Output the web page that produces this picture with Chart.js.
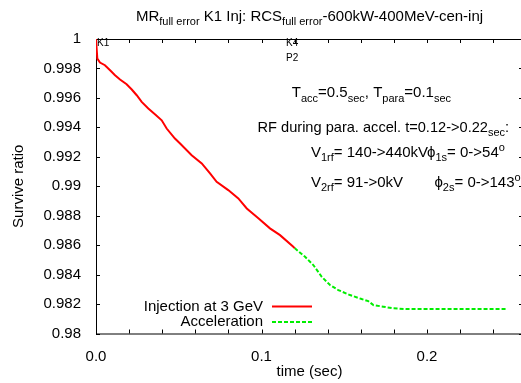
<!DOCTYPE html>
<html>
<head>
<meta charset="utf-8">
<script src="https://cdn.jsdelivr.net/npm/chart.js@4/dist/chart.umd.min.js"></script>
<style>
  html, body { margin: 0; padding: 0; background: #fff; overflow: hidden; }
  #wrap { width: 540px; height: 383px; }
</style>
</head>
<body>
<div id="wrap"><canvas id="surviveChart" width="540" height="383"></canvas></div>
<script>
// --- data ---
const seriesNames = ['Injection at 3 GeV', 'Acceleration'];

const injTime  = [0, 0.0008, 0.0024, 0.0054, 0.0085, 0.0115, 0.0145, 0.0185, 0.0216, 0.0246,
                  0.0276, 0.0316, 0.0356, 0.0397, 0.0427, 0.0477, 0.0508, 0.0578, 0.0639, 0.0689,
                  0.0729, 0.0799, 0.0860, 0.0911, 0.0981, 0.1051, 0.1112, 0.1192, 0.1200];
const injRatio = [1.0, 0.99867, 0.99840, 0.99822, 0.99788, 0.99754, 0.99725, 0.99693, 0.99657, 0.99618,
                  0.99573, 0.99528, 0.99489, 0.99448, 0.99392, 0.99324, 0.99290, 0.99211, 0.99155, 0.99087,
                  0.99030, 0.98974, 0.98917, 0.98849, 0.98782, 0.98714, 0.98668, 0.98589, 0.98580];

const accTime  = [0.1200, 0.1263, 0.1313, 0.1364, 0.1414, 0.1464, 0.1535, 0.1605, 0.1645, 0.1676,
                  0.1736, 0.1796, 0.1877, 0.2482];
const accRatio = [0.98580, 0.98521, 0.98465, 0.98385, 0.98329, 0.98295, 0.98261, 0.98234, 0.98220, 0.98193,
                  0.98182, 0.98171, 0.98166, 0.98166];

const xTickValues = [0, 0.02, 0.04, 0.06, 0.08, 0.1, 0.12, 0.14, 0.16, 0.18, 0.2, 0.22, 0.24];
const xTickLabels = ['0.0', '', '', '', '', '0.1', '', '', '', '', '0.2', '', ''];
const yTickValues = [0.98, 0.982, 0.984, 0.986, 0.988, 0.99, 0.992, 0.994, 0.996, 0.998, 1];
const yTickLabels = ['0.98', '0.982', '0.984', '0.986', '0.988', '0.99', '0.992', '0.994', '0.996', '0.998', '1'];

const xTitle = 'time (sec)';
const yTitle = 'Survive ratio';

// rich text pieces: '' normal, 'b' subscript, 'p' superscript
const titleParts = [['MR', ''], ['full error', 'b'], [' K1 Inj: RCS', ''], ['full error', 'b'], ['-600kW-400MeV-cen-inj', '']];
const notes = [
  { t: 0.0006, v: 0.99954, size: 10, parts: [['K1', '']] },
  { t: 0.1148, v: 0.99954, size: 10, parts: [['K4', '']] },
  { t: 0.1148, v: 0.99853, size: 10, parts: [['P2', '']] },
  { t: 0.1183, v: 0.99604, size: 15, parts: [['T', ''], ['acc', 'b'], ['=0.5', ''], ['sec', 'b'], [', T', ''], ['para', 'b'], ['=0.1', ''], ['sec', 'b']] },
  { t: 0.0976, v: 0.99367, size: 14.6, parts: [['RF during para. accel. t=0.12->0.22', ''], ['sec', 'b'], [':', '']] },
  { t: 0.1299, v: 0.99197, size: 15, parts: [['V', ''], ['1rf', 'b'], ['= 140->440kV', '']] },
  { t: 0.2000, v: 0.99197, size: 15, parts: [['ϕ', ''], ['1s', 'b'], ['= 0->54', ''], ['o', 'p']] },
  { t: 0.1299, v: 0.98994, size: 15, parts: [['V', ''], ['2rf', 'b'], ['= 91->0kV', '']] },
  { t: 0.2045, v: 0.98994, size: 15, parts: [['ϕ', ''], ['2s', 'b'], ['= 0->143', ''], ['o', 'p']] }
];

const FONT = '"Liberation Sans", Arial, Helvetica, sans-serif';

function fontFor(kind, size) {
  return (kind ? Math.round(size * 0.72) : size) + 'px ' + FONT;
}

// draws a run of text with sub/superscripts
function richText(ctx, parts, x, y, size, align) {
  const widths = parts.map(([s, k]) => { ctx.font = fontFor(k, size); return ctx.measureText(s).width; });
  const total = widths.reduce((a, b) => a + b, 0);
  let cx = align === 'center' ? x - total / 2 : x;
  parts.forEach(([s, k], i) => {
    ctx.font = fontFor(k, size);
    const dy = k === 'b' ? size * 0.28 : k === 'p' ? -size * 0.42 : 0;
    ctx.fillText(s, cx, y + dy);
    cx += widths[i];
  });
}

// gnuplot style frame with inward ticks on all four sides
const framePlugin = {
  id: 'frame',
  beforeDatasetsDraw(chart) {
    const { ctx, chartArea: a, scales: { x, y } } = chart;
    ctx.save();
    ctx.strokeStyle = '#000';
    ctx.lineWidth = 1;
    ctx.strokeRect(a.left + 0.5, a.top + 0.5, a.right - a.left, a.bottom - a.top);
    ctx.beginPath();
    xTickValues.forEach(v => {
      const px = Math.round(x.getPixelForValue(v)) + 0.5;
      ctx.moveTo(px, a.bottom); ctx.lineTo(px, a.bottom - 4);
      ctx.moveTo(px, a.top); ctx.lineTo(px, a.top + 4);
    });
    yTickValues.forEach(v => {
      const py = Math.round(y.getPixelForValue(v)) + 0.5;
      ctx.moveTo(a.left, py); ctx.lineTo(a.left + 4, py);
      ctx.moveTo(a.right, py); ctx.lineTo(a.right - 4, py);
    });
    ctx.stroke();
    ctx.restore();
  }
};

// title, labels and the key
const textPlugin = {
  id: 'texts',
  afterDraw(chart) {
    const { ctx, chartArea: a, scales: { x, y } } = chart;
    ctx.save();
    ctx.fillStyle = '#000';
    ctx.textBaseline = 'alphabetic';
    ctx.textAlign = 'left';
    richText(ctx, titleParts, (a.left + a.right) / 2, 21, 15, 'center');
    notes.forEach(n => richText(ctx, n.parts, x.getPixelForValue(n.t), y.getPixelForValue(n.v), n.size, 'left'));

    // key: label right-aligned, sample line after it
    ctx.font = '15px ' + FONT;
    ctx.textAlign = 'right';
    ctx.textBaseline = 'middle';
    chart.data.datasets.forEach((ds, i) => {
      const ky = a.bottom - 27 + i * 15.6;
      ctx.fillText(ds.label, a.left + 167, ky);
      ctx.beginPath();
      ctx.strokeStyle = ds.borderColor;
      ctx.lineWidth = 2;
      ctx.setLineDash(ds.borderDash || []);
      ctx.moveTo(a.left + 176, ky);
      ctx.lineTo(a.left + 216, ky);
      ctx.stroke();
    });
    ctx.restore();
  }
};

const toPoints = (xs, ys) => xs.map((t, i) => ({ x: t, y: ys[i] }));

new Chart(document.getElementById('surviveChart'), {
  type: 'line',
  data: {
    datasets: [
      {
        label: seriesNames[0],
        data: toPoints(injTime, injRatio),
        borderColor: '#ff0000',
        borderWidth: 2,
        pointRadius: 0,
        tension: 0
      },
      {
        label: seriesNames[1],
        data: toPoints(accTime, accRatio),
        borderColor: '#00ee00',
        borderWidth: 2,
        borderDash: [4, 2],
        pointRadius: 0,
        tension: 0
      }
    ]
  },
  options: {
    responsive: false,
    animation: false,
    layout: { padding: { left: 0, top: 39, right: 17, bottom: 0 } },
    plugins: { legend: { display: false }, tooltip: { enabled: false } },
    scales: {
      x: {
        type: 'linear',
        min: 0,
        max: 0.258,
        grid: { display: false },
        border: { display: false },
        afterBuildTicks: s => { s.ticks = xTickValues.map(v => ({ value: v })); },
        afterFit: s => { s.height = 49.5; },
        ticks: {
          autoSkip: false,
          maxRotation: 0,
          padding: 6,
          color: '#000',
          font: { family: FONT, size: 15 },
          callback: (v, i) => xTickLabels[i]
        },
        title: {
          display: true,
          text: xTitle,
          color: '#000',
          font: { family: FONT, size: 15 },
          padding: { top: 0, bottom: 2 }
        }
      },
      y: {
        type: 'linear',
        min: 0.98,
        max: 1,
        grid: { display: false },
        border: { display: false },
        afterBuildTicks: s => { s.ticks = yTickValues.map(v => ({ value: v })); },
        afterFit: s => { s.width = 96; },
        ticks: {
          autoSkip: false,
          padding: 7,
          color: '#000',
          font: { family: FONT, size: 15 },
          callback: (v, i) => yTickLabels[i]
        },
        title: {
          display: true,
          text: yTitle,
          color: '#000',
          font: { family: FONT, size: 15 },
          padding: { top: 10, bottom: 0 }
        }
      }
    }
  },
  plugins: [framePlugin, textPlugin]
});
</script>
</body>
</html>
